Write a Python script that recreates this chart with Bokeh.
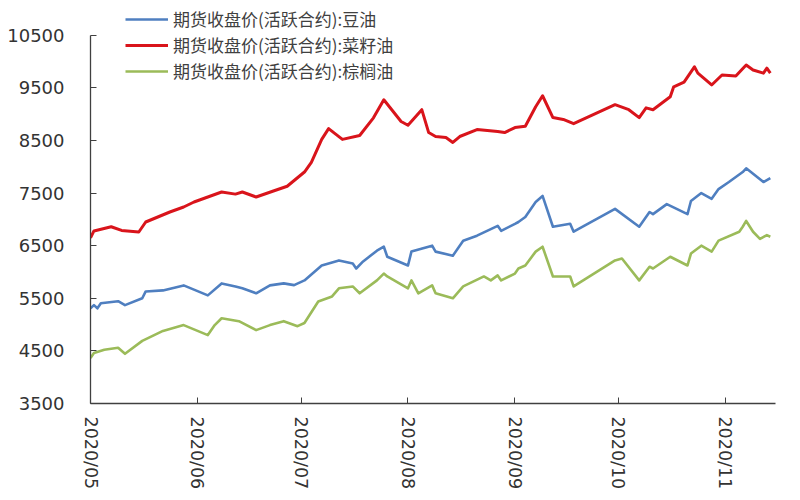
import pandas as pd
from bokeh.plotting import figure
from bokeh.models import FixedTicker, DatetimeTickFormatter, Range1d
from bokeh.embed import file_html
from bokeh.resources import INLINE

# ---- data ----
series_names = ["期货收盘价(活跃合约):豆油", "期货收盘价(活跃合约):菜籽油", "期货收盘价(活跃合约):棕榈油"]

soy_dates = ["2020-05-01", "2020-05-02", "2020-05-03", "2020-05-04", "2020-05-09", "2020-05-11",
             "2020-05-16", "2020-05-17", "2020-05-22", "2020-05-28", "2020-06-04", "2020-06-08",
             "2020-06-12", "2020-06-14", "2020-06-18", "2020-06-22", "2020-06-26", "2020-06-29",
             "2020-07-02", "2020-07-05", "2020-07-07", "2020-07-12", "2020-07-16", "2020-07-17",
             "2020-07-19", "2020-07-23", "2020-07-25", "2020-07-26", "2020-08-01", "2020-08-02",
             "2020-08-08", "2020-08-09", "2020-08-14", "2020-08-17", "2020-08-21", "2020-08-27",
             "2020-08-28", "2020-09-01", "2020-09-02", "2020-09-04", "2020-09-07", "2020-09-09",
             "2020-09-12", "2020-09-17", "2020-09-18", "2020-09-30", "2020-10-07", "2020-10-10",
             "2020-10-11", "2020-10-15", "2020-10-21", "2020-10-22", "2020-10-25", "2020-10-28",
             "2020-10-30", "2020-11-02", "2020-11-06", "2020-11-07", "2020-11-12", "2020-11-14"]
soy_vals = [5310, 5370, 5310, 5405, 5445, 5370,
            5500, 5630, 5650, 5745, 5555, 5783,
            5725, 5690, 5595, 5745, 5783, 5750,
            5840, 6010, 6123, 6220, 6160, 6066,
            6200, 6405, 6480, 6290, 6123, 6387,
            6500, 6387, 6310, 6595, 6690, 6877,
            6783, 6915, 6950, 7045, 7330, 7445,
            6860, 6915, 6765, 7200, 6860, 7140,
            7100, 7290, 7100, 7350, 7500, 7390,
            7575, 7710, 7900, 7970, 7710, 7785]

rape_dates = ["2020-05-01", "2020-05-02", "2020-05-07", "2020-05-10", "2020-05-15", "2020-05-17",
              "2020-05-24", "2020-05-28", "2020-05-31", "2020-06-08", "2020-06-12", "2020-06-14",
              "2020-06-18", "2020-06-23", "2020-06-27", "2020-07-02", "2020-07-04", "2020-07-07",
              "2020-07-09", "2020-07-13", "2020-07-18", "2020-07-22", "2020-07-25", "2020-07-30",
              "2020-08-01", "2020-08-05", "2020-08-07", "2020-08-09", "2020-08-12", "2020-08-14",
              "2020-08-16", "2020-08-21", "2020-08-27", "2020-08-29", "2020-09-01", "2020-09-04",
              "2020-09-07", "2020-09-09", "2020-09-12", "2020-09-15", "2020-09-18", "2020-09-30",
              "2020-10-04", "2020-10-07", "2020-10-09", "2020-10-11", "2020-10-16", "2020-10-17",
              "2020-10-20", "2020-10-23", "2020-10-24", "2020-10-28", "2020-10-31", "2020-11-04",
              "2020-11-07", "2020-11-09", "2020-11-12", "2020-11-13", "2020-11-14"]
rape_vals = [6650, 6780, 6860, 6790, 6760, 6950,
             7140, 7235, 7330, 7520, 7480, 7520,
             7425, 7540, 7630, 7900, 8085, 8520,
             8725, 8520, 8595, 8930, 9273, 8860,
             8790, 9085, 8650, 8575, 8557, 8462,
             8575, 8707, 8670, 8650, 8745, 8770,
             9140, 9350, 8935, 8900, 8820, 9180,
             9085, 8935, 9120, 9085, 9330, 9520,
             9610, 9900, 9780, 9555, 9745, 9725,
             9935, 9840, 9780, 9875, 9780]

palm_dates = ["2020-05-01", "2020-05-02", "2020-05-05", "2020-05-09", "2020-05-11", "2020-05-16",
              "2020-05-22", "2020-05-28", "2020-06-04", "2020-06-06", "2020-06-08", "2020-06-13",
              "2020-06-18", "2020-06-22", "2020-06-26", "2020-06-30", "2020-07-02", "2020-07-06",
              "2020-07-10", "2020-07-12", "2020-07-16", "2020-07-18", "2020-07-23", "2020-07-25",
              "2020-07-26", "2020-08-01", "2020-08-02", "2020-08-04", "2020-08-08", "2020-08-09",
              "2020-08-14", "2020-08-17", "2020-08-23", "2020-08-25", "2020-08-27", "2020-08-28",
              "2020-09-01", "2020-09-02", "2020-09-04", "2020-09-07", "2020-09-09", "2020-09-12",
              "2020-09-17", "2020-09-18", "2020-09-30", "2020-10-02", "2020-10-07", "2020-10-10",
              "2020-10-11", "2020-10-16", "2020-10-21", "2020-10-22", "2020-10-25", "2020-10-28",
              "2020-10-30", "2020-11-05", "2020-11-06", "2020-11-07", "2020-11-09", "2020-11-11",
              "2020-11-13", "2020-11-14"]
palm_vals = [4365, 4460, 4520, 4560, 4445, 4690,
             4880, 4990, 4800, 4990, 5120, 5065,
             4895, 4990, 5065, 4970, 5030, 5440,
             5535, 5690, 5725, 5595, 5840, 5970,
             5915, 5690, 5840, 5595, 5745, 5595,
             5500, 5725, 5915, 5840, 5935, 5840,
             5970, 6066, 6123, 6387, 6480, 5915,
             5915, 5725, 6220, 6255, 5840, 6100,
             6066, 6290, 6123, 6350, 6500, 6387,
             6595, 6765, 6860, 6970, 6765, 6630,
             6700, 6670]

y_min, y_max = 3500, 10500
y_ticks = [3500, 4500, 5500, 6500, 7500, 8500, 9500, 10500]
x_tick_months = ["2020-05-01", "2020-06-01", "2020-07-01", "2020-08-01",
                 "2020-09-01", "2020-10-01", "2020-11-01"]

# ---- figure ----
# The frame reaches the top of the canvas so that the legend (which sits above
# the 10500 line) is not clipped; the y axis line is bounded to 3500..10500.
frame_h = 406
top_px = 35
y_top = y_max + top_px * (y_max - y_min) / (frame_h - top_px)

p = figure(width=792, height=492, x_axis_type="datetime",
           output_backend="svg", toolbar_location=None,
           min_border_left=90, min_border_right=17, min_border_top=0, min_border_bottom=86)
p.x_range = Range1d(pd.Timestamp("2020-05-01"), pd.Timestamp("2020-11-15 12:00"))
p.y_range = Range1d(y_min, y_top)
p.outline_line_color = None
p.grid.visible = False
p.background_fill_color = "white"
p.border_fill_color = "white"

colors = ["#4F7FC0", "#D9141B", "#9BBB59"]
widths = [2.6, 3.0, 2.6]
all_dates = [soy_dates, rape_dates, palm_dates]
all_vals = [soy_vals, rape_vals, palm_vals]
for name, d, v, c, w in zip(series_names, all_dates, all_vals, colors, widths):
    p.line(pd.to_datetime(d), v, line_color=c, line_width=w, legend_label=name,
           line_join="round")

# y axis
ya = p.yaxis[0]
ya.ticker = FixedTicker(ticks=y_ticks)
ya.bounds = (y_min, y_max)
ya.major_tick_in = 6
ya.major_tick_out = 0
ya.minor_tick_in = 0
ya.minor_tick_out = 0
ya.axis_line_color = "#404040"
ya.axis_line_width = 1.3
ya.major_tick_line_color = "#404040"
ya.major_label_text_font = "DejaVu Sans"
ya.major_label_text_font_size = "18px"
ya.major_label_text_color = "#333333"
ya.major_label_standoff = 26

# x axis
xa = p.xaxis[0]
xa.ticker = FixedTicker(ticks=[pd.Timestamp(t).value // 10**6 for t in x_tick_months])
fmt = "%Y/%m"
xa.formatter = DatetimeTickFormatter(milliseconds=fmt, seconds=fmt, minsec=fmt, minutes=fmt,
                                     hourmin=fmt, hours=fmt, days=fmt, months=fmt, years=fmt)
xa.major_tick_in = 6
xa.major_tick_out = 0
xa.minor_tick_in = 0
xa.minor_tick_out = 0
xa.axis_line_color = "#404040"
xa.axis_line_width = 1.3
xa.major_tick_line_color = "#404040"
xa.major_label_orientation = "vertical"
xa.major_label_text_font = "DejaVu Sans"
xa.major_label_text_font_size = "17.5px"
xa.major_label_text_color = "#333333"
xa.major_label_standoff = 13

# legend
lg = p.legend[0]
lg.location = (35, 320)
lg.border_line_color = None
lg.background_fill_alpha = 0
lg.padding = 0
lg.margin = 0
lg.spacing = 1
lg.glyph_width = 43
lg.glyph_height = 20
lg.label_height = 20
lg.label_standoff = 5
lg.label_text_font = "Noto Sans CJK SC"
lg.label_text_font_size = "17px"
lg.label_text_color = "#404040"

open("out.html", "w").write(file_html(p, INLINE))
